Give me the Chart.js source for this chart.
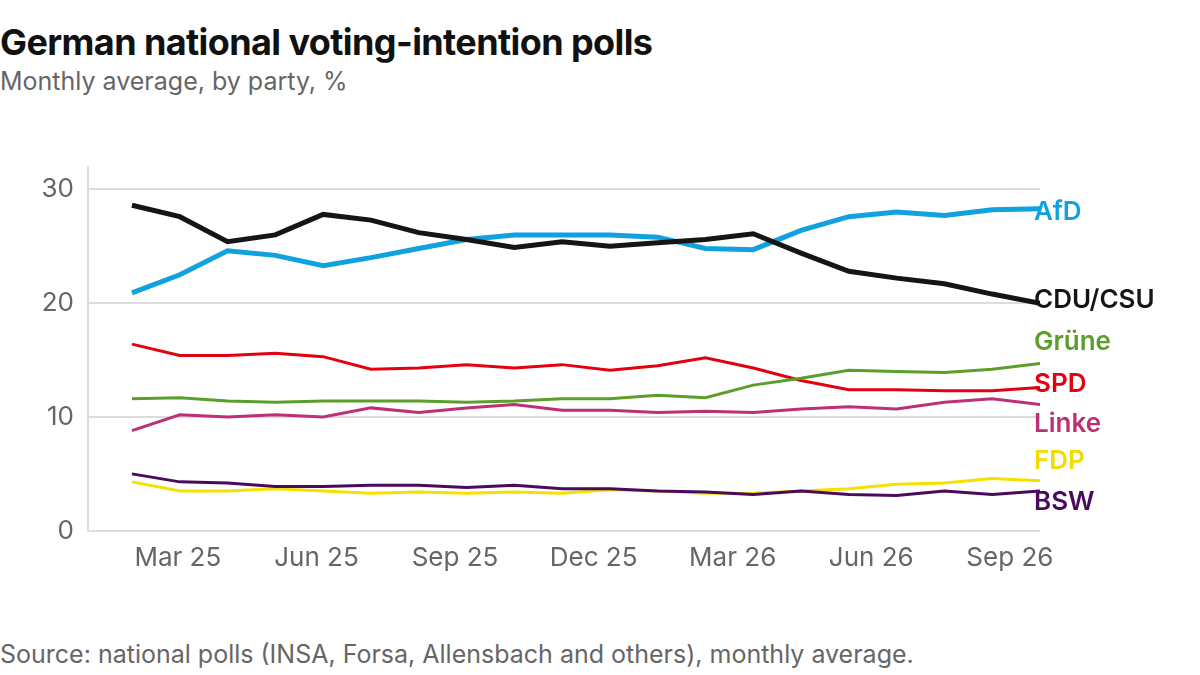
<!DOCTYPE html>
<html>
<head>
<meta charset="utf-8">
<script src="https://cdn.jsdelivr.net/npm/chart.js@4"></script>
<style>
  body { margin:0; width:1200px; height:675px; background:#fff; font-family:Inter, sans-serif; position:relative; overflow:hidden; }
  #title { position:absolute; left:0; top:20px; font-size:36px; font-weight:700; color:#111; letter-spacing:-0.6px; }
  #sub { position:absolute; left:0; top:66px; font-size:25px; color:#666; }
  #src { position:absolute; left:0; top:639px; font-size:25px; color:#666; }
  #wrap { position:absolute; left:0; top:137px; width:1200px; height:448px; }
</style>
</head>
<body>
<div id="title">German national voting-intention polls</div>
<div id="sub">Monthly average, by party, %</div>
<div id="wrap"><canvas id="c"></canvas></div>
<div id="src">Source: national polls (INSA, Forsa, Allensbach and others), monthly average.</div>
<script>
const afd   = [20.9,22.5,24.6,24.2,23.3,24.0,24.8,25.6,26.0,26.0,26.0,25.8,24.8,24.7,26.4,27.6,28.0,27.7,28.2,28.3];
const cdu   = [28.6,27.6,25.4,26.0,27.8,27.3,26.2,25.6,24.9,25.4,25.0,25.3,25.6,26.1,24.4,22.8,22.2,21.7,20.8,20.0];
const gruene= [11.6,11.7,11.4,11.3,11.4,11.4,11.4,11.3,11.4,11.6,11.6,11.9,11.7,12.8,13.4,14.1,14.0,13.9,14.2,14.7];
const spd   = [16.4,15.4,15.4,15.6,15.3,14.2,14.3,14.6,14.3,14.6,14.1,14.5,15.2,14.3,13.2,12.4,12.4,12.3,12.3,12.6];
const linke = [8.8,10.2,10.0,10.2,10.0,10.8,10.4,10.8,11.1,10.6,10.6,10.4,10.5,10.4,10.7,10.9,10.7,11.3,11.6,11.1];
const fdp   = [4.3,3.5,3.5,3.7,3.5,3.3,3.4,3.3,3.4,3.3,3.6,3.5,3.3,3.3,3.5,3.7,4.1,4.2,4.6,4.4];
const bsw   = [5.0,4.3,4.2,3.9,3.9,4.0,4.0,3.8,4.0,3.7,3.7,3.5,3.4,3.2,3.5,3.2,3.1,3.5,3.2,3.5];
const tickLabels = ['Mar 25','Jun 25','Sep 25','Dec 25','Mar 26','Jun 26','Sep 26'];
const tickPos    = [0.96, 3.86, 6.76, 9.66, 12.57, 15.47, 18.37];
// label anchor values (nudged apart so they don't overlap)
const labelAt = {AfD:28.0, 'CDU/CSU':20.3, 'Grüne':16.6, SPD:12.9, Linke:9.4, FDP:6.1, BSW:2.5};

const series = [
  {label:'BSW', data:bsw, color:'#4a0b5c', w:3},
  {label:'FDP', data:fdp, color:'#f5e100', w:3},
  {label:'Linke', data:linke, color:'#be3075', w:3},
  {label:'Grüne', data:gruene, color:'#5b9e2b', w:3},
  {label:'SPD', data:spd, color:'#e3000f', w:3},
  {label:'CDU/CSU', data:cdu, color:'#151515', w:5},
  {label:'AfD', data:afd, color:'#0fa2df', w:5},
];

const endLabels = {
  id:'endLabels',
  afterDatasetsDraw(chart){
    const ctx = chart.ctx, y = chart.scales.y, x = chart.scales.x;
    ctx.save();
    ctx.font = '600 26px Inter';
    ctx.textBaseline = 'middle';
    chart.data.datasets.forEach(ds=>{
      ctx.fillStyle = ds.borderColor === '#f5e100' ? '#f2dc00' : ds.borderColor;
      ctx.fillText(ds.label, x.getPixelForValue(19) - 6, y.getPixelForValue(labelAt[ds.label]));
    });
    ctx.restore();
  }
};

new Chart(document.getElementById('c'), {
  type:'line',
  data:{
    datasets: series.map(s=>({
      label:s.label,
      data:s.data.map((v,i)=>({x:i,y:v})),
      borderColor:s.color, borderWidth:s.w, pointRadius:0, tension:0, fill:false
    }))
  },
  options:{
    responsive:true, maintainAspectRatio:false, animation:false,
    layout:{padding:{left:0, right:160, top:8, bottom:7}},
    plugins:{legend:{display:false}, tooltip:{enabled:false}},
    scales:{
      x:{
        type:'linear', min:-0.92, max:19,
        afterBuildTicks(ax){ ax.ticks = tickPos.map(v=>({value:v})); },
        ticks:{ callback:(v,i)=>tickLabels[i], color:'#666', font:{size:26, family:'Inter'}, maxRotation:0, padding:4 },
        grid:{display:false}, border:{display:false}
      },
      y:{
        min:0, max:32,
        afterFit(ax){ ax.width = 88; },
        afterBuildTicks(ax){ ax.ticks = [0,10,20,30].map(v=>({value:v})); },
        ticks:{ color:'#666', font:{size:26, family:'Inter'}, padding:14 },
        grid:{color:'#dddddd', lineWidth:2, drawTicks:false},
        border:{display:true, color:'#dddddd', width:2}
      }
    }
  },
  plugins:[endLabels]
});
</script>
</body>
</html>
